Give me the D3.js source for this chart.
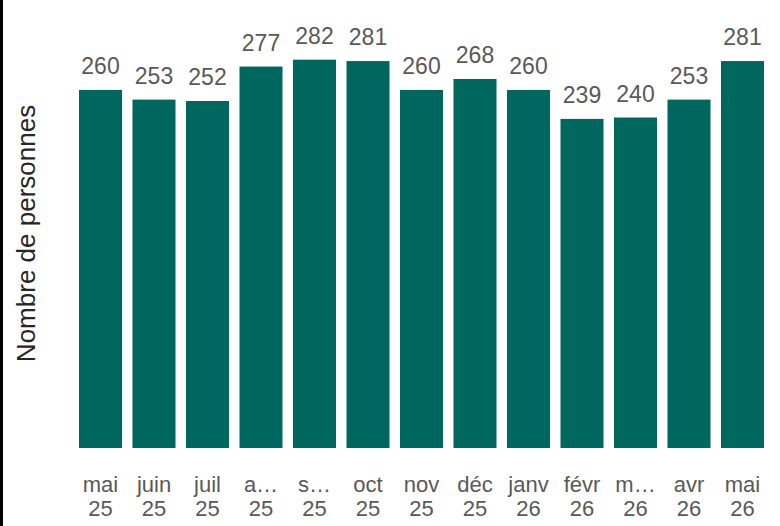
<!DOCTYPE html>
<html>
<head>
<meta charset="utf-8">
<script src="https://cdn.jsdelivr.net/npm/d3@7"></script>
<style>
  body { margin: 0; background: #fff; }
  svg { display: block; font-family: "Liberation Sans", Arial, sans-serif; }
</style>
</head>
<body>
<svg id="chart" width="780" height="526"></svg>
<script>
var months = ['mai', 'juin', 'juil', 'a\u2026', 's\u2026', 'oct', 'nov', 'd\u00e9c', 'janv', 'f\u00e9vr', 'm\u2026', 'avr', 'mai']
var years = ['25', '25', '25', '25', '25', '25', '25', '25', '26', '26', '26', '26', '26']
var values = [260, 253, 252, 277, 282, 281, 260, 268, 260, 239, 240, 253, 281]

var svg = d3.select('#chart')

// thin dark strip on the left edge
svg.append('rect')
  .attr('x', 0).attr('y', 0)
  .attr('width', 3).attr('height', 526)
  .attr('fill', '#000')

var x = d3.scaleBand()
  .domain(d3.range(values.length))
  .range([73.75, 769.25])
  .paddingInner(0.196)
  .paddingOuter(0.098)

var y = d3.scaleLinear()
  .domain([0, 300])
  .range([448, 448 - 300 * 1.377])

svg.selectAll('rect.bar')
  .data(values)
  .enter().append('rect')
    .attr('class', 'bar')
    .attr('x', function (d, i) { return x(i) })
    .attr('y', function (d) { return y(d) })
    .attr('width', x.bandwidth())
    .attr('height', function (d) { return y(0) - y(d) })
    .attr('fill', '#00675e')

svg.selectAll('text.value')
  .data(values)
  .enter().append('text')
    .attr('class', 'value')
    .attr('x', function (d, i) { return x(i) + x.bandwidth() / 2 })
    .attr('y', function (d) { return y(d) - 16 })
    .attr('text-anchor', 'middle')
    .attr('font-size', 23)
    .attr('fill', '#595959')
    .text(function (d) { return d })

// two-line month / year ticks
var ticks = svg.selectAll('text.tick')
  .data(months)
  .enter().append('text')
    .attr('class', 'tick')
    .attr('text-anchor', 'middle')
    .attr('font-size', 22)
    .attr('fill', '#595959')

ticks.append('tspan')
  .attr('x', function (d, i) { return x(i) + x.bandwidth() / 2 })
  .attr('y', 492)
  .text(function (d) { return d })

ticks.append('tspan')
  .attr('x', function (d, i) { return x(i) + x.bandwidth() / 2 })
  .attr('y', 516)
  .text(function (d, i) { return years[i] })

svg.append('text')
  .attr('transform', 'translate(35,233.5) rotate(-90)')
  .attr('text-anchor', 'middle')
  .attr('font-size', 26)
  .attr('fill', '#262626')
  .text('Nombre de personnes')
</script>
</body>
</html>
